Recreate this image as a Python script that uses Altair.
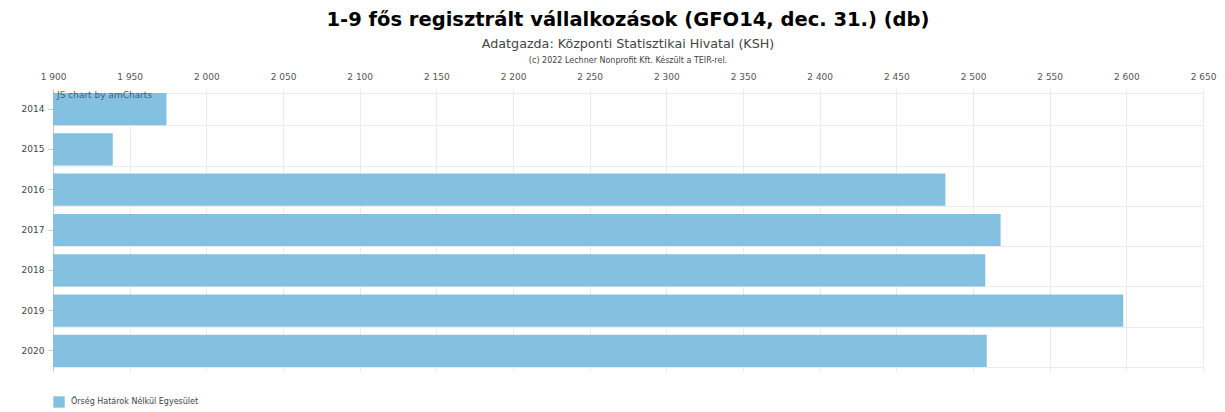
import altair as alt
import pandas as pd

FONT = "DejaVu Sans"

years = ["2014", "2015", "2016", "2017", "2018", "2019", "2020"]
values = [1974, 1939, 2482, 2518, 2508, 2598, 2509]
series_name = "Őrség Határok Nélkül Egyesület"
x_ticks = [1900, 1950, 2000, 2050, 2100, 2150, 2200, 2250, 2300, 2350,
           2400, 2450, 2500, 2550, 2600, 2650]

title_text = "1-9 fős regisztrált vállalkozások (GFO14, dec. 31.) (db)"
subtitle_text = "Adatgazda: Központi Statisztikai Hivatal (KSH)"
copyright_text = "(c) 2022 Lechner Nonprofit Kft. Készült a TEIR-rel."
watermark_text = "JS chart by amCharts"

BAR_COLOR = "#84c1e1"
GRID = "#ebebeb"
W, H = 1150, 282

df = pd.DataFrame({"year": years, "value": values, "series": [series_name] * len(years)})
ann = pd.DataFrame({"copy": [copyright_text], "wm": [watermark_text]})

yscale = alt.Scale(paddingInner=0.2, paddingOuter=0.1)

grid = alt.Chart(df).mark_bar(opacity=0).encode(
    y=alt.Y("year:N", sort=years, scale=yscale,
            axis=alt.Axis(grid=True, tickBand="extent", labels=False, ticks=False,
                          domain=False, title=None, gridColor=GRID, orient="left"))
)

bars = alt.Chart(df).mark_bar(color=BAR_COLOR).encode(
    x=alt.X("value:Q",
            scale=alt.Scale(domain=[1900, 2650], zero=False, nice=False, clamp=True),
            axis=alt.Axis(orient="top", values=x_ticks,
                          labelExpr="replace(format(datum.value, ','), ',', ' ')",
                          ticks=False, domain=False, grid=True, gridColor=GRID,
                          labelFontSize=9, labelColor="#555", labelFont=FONT,
                          labelFlush=False, labelPadding=8, title=None)),
    y=alt.Y("year:N", sort=years, scale=yscale,
            axis=alt.Axis(title=None, labelFontSize=9, labelFont=FONT, labelColor="#444",
                          ticks=True, tickSize=5, tickColor="#c8c8c8",
                          domain=True, domainColor="#c8c8c8", grid=False,
                          labelPadding=4, orient="left")),
    color=alt.Color("series:N", scale=alt.Scale(range=[BAR_COLOR]),
                    legend=alt.Legend(orient="none", legendX=0, legendY=H + 25,
                                      title=None, symbolType="square", symbolSize=130,
                                      symbolStrokeWidth=0, symbolOpacity=1,
                                      labelFontSize=8, labelFont=FONT, labelColor="#444",
                                      labelOffset=6))
)

wm = alt.Chart(ann).mark_text(align="left", baseline="top", fontSize=9, font=FONT,
                              color="#3d6178").encode(
    x=alt.value(4), y=alt.value(2), text="wm:N")

copy = alt.Chart(ann).mark_text(align="center", baseline="middle", fontSize=8, font=FONT,
                                color="#444").encode(
    x=alt.value(W / 2), y=alt.value(-28), text="copy:N")

chart = alt.layer(grid, bars, wm, copy).resolve_axis(y="independent").properties(
    width=W, height=H,
    title=alt.TitleParams(text=title_text, subtitle=subtitle_text, font=FONT,
                          fontSize=19.5, fontWeight="bold", color="#000",
                          subtitleFont=FONT, subtitleFontSize=12.7, subtitleColor="#444",
                          subtitlePadding=8, anchor="middle", offset=5),
    autosize=alt.AutoSizeParams(type="none"),
    padding={"left": 45, "top": 81, "right": 14, "bottom": 40},
).configure_view(stroke=None)

chart.save("out.html", embed_options={"renderer": "svg", "actions": False})
